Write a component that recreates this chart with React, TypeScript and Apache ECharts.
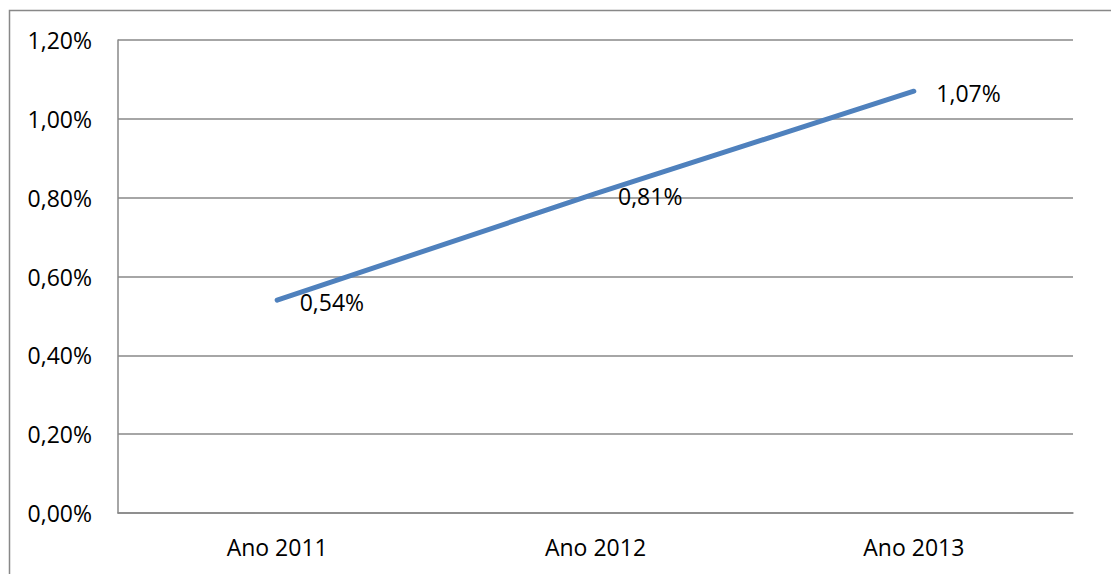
import React, { useEffect, useRef } from "react";
import * as echarts from "echarts";

const categories = ["Ano 2011", "Ano 2012", "Ano 2013"];
const values = [0.54, 0.81, 1.07];
const yMin = 0;
const yMax = 1.2;
const yInterval = 0.2;

const fmt = (v: number) => v.toFixed(2).replace(".", ",") + "%";

export default function App() {
  const ref = useRef<HTMLDivElement>(null);
  useEffect(() => {
    document.body.style.margin = "0";
    const chart = echarts.init(ref.current!, null, { renderer: "svg" });
    const font = "'Open Sans', sans-serif";
    chart.setOption({
      animation: false,
      backgroundColor: "#ffffff",
      textStyle: { fontFamily: font },
      graphic: [
        {
          type: "rect",
          shape: { x: 9.5, y: 10.5, width: 1300, height: 800 },
          style: { fill: "none", stroke: "#888888", lineWidth: 1.5 },
          silent: true,
        },
      ],
      grid: { left: 118, top: 40, right: 38, bottom: 61, containLabel: false },
      xAxis: {
        type: "category",
        data: categories,
        boundaryGap: true,
        axisLine: { show: true, lineStyle: { color: "#888888", width: 1.5 } },
        axisTick: { show: false },
        axisLabel: { color: "#000", fontSize: 23, fontFamily: font, margin: 22 },
        splitLine: { show: false },
      },
      yAxis: {
        type: "value",
        min: yMin,
        max: yMax,
        interval: yInterval,
        axisLine: { show: true, lineStyle: { color: "#888888", width: 1.5 } },
        axisTick: { show: false },
        axisLabel: {
          color: "#000",
          fontSize: 23,
          fontFamily: font,
          margin: 26,
          formatter: (v: number) => fmt(v),
        },
        splitLine: { show: true, lineStyle: { color: "#888888", width: 1.5 } },
      },
      series: [
        {
          type: "line",
          data: values,
          symbol: "circle",
          symbolSize: 1,
          itemStyle: { color: "#4F81BD" },
          lineStyle: { color: "#4F81BD", width: 5, cap: "round" },
          label: {
            show: true,
            position: "right",
            distance: 22,
            offset: [0, 2],
            color: "#000",
            fontSize: 23,
            fontFamily: font,
            formatter: (p: any) => fmt(p.value),
          },
        },
      ],
    });
    return () => chart.dispose();
  }, []);
  return <div ref={ref} style={{ width: 1111, height: 574 }} />;
}
